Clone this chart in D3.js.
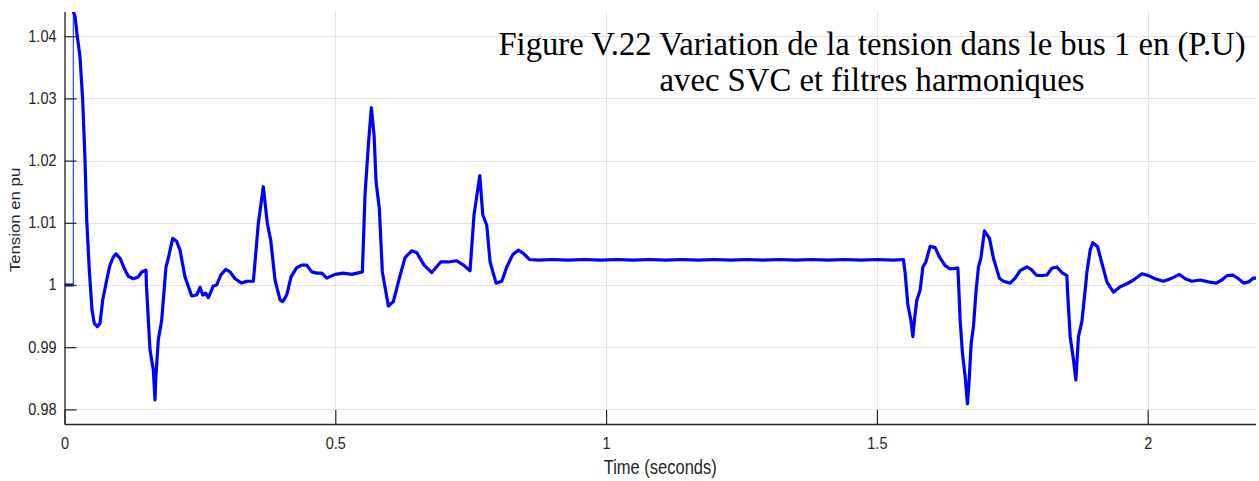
<!DOCTYPE html>
<html>
<head>
<meta charset="utf-8">
<script src="https://cdn.jsdelivr.net/npm/d3@7"></script>
<style>
  html, body { margin: 0; padding: 0; background: #ffffff; }
  svg { display: block; }
</style>
</head>
<body>
<svg id="chart" width="1259" height="481"></svg>
<script>
// Bus 1 voltage (p.u.) with SVC and harmonic filters
const xTicks = [0, 0.5, 1, 1.5, 2];
const xTickLabels = ["0", "0.5", "1", "1.5", "2"];
const yTicks = [0.98, 0.99, 1.0, 1.01, 1.02, 1.03, 1.04];
const yTickLabels = ["0.98", "0.99", "1", "1.01", "1.02", "1.03", "1.04"];

// initial steady value before the switching instant
const preTime = [0, 0.0163];
const preTension = [1.0, 1.0];
const stepTime = 0.0163;

const timeSec = [
  0.0163, 0.0166, 0.0194, 0.0236, 0.0286, 0.0336, 0.0379, 0.0410, 0.0458, 0.0508,
  0.0550, 0.0606, 0.0656, 0.0705, 0.0779, 0.0840, 0.0901, 0.0951, 0.1025, 0.1117,
  0.1178, 0.1271, 0.1363, 0.1426, 0.1505, 0.1511, 0.1548, 0.1579, 0.1640, 0.1671,
  0.1684, 0.1732, 0.1795, 0.1874, 0.1917, 0.1998, 0.2072, 0.2133, 0.2225, 0.2349,
  0.2441, 0.2502, 0.2552, 0.2608, 0.2656, 0.2748, 0.2811, 0.2885, 0.2977, 0.3056,
  0.3149, 0.3272, 0.3365, 0.3487, 0.3505, 0.3579, 0.3671, 0.3745, 0.3808, 0.3887,
  0.3980, 0.4030, 0.4103, 0.4183, 0.4288, 0.4380, 0.4473, 0.4565, 0.4657, 0.4750,
  0.4842, 0.4995, 0.5149, 0.5304, 0.5500, 0.5549, 0.5610, 0.5666, 0.5716, 0.5753,
  0.5813, 0.5869, 0.5980, 0.6072, 0.6183, 0.6288, 0.6412, 0.6504, 0.6639, 0.6781,
  0.6947, 0.7088, 0.7243, 0.7365, 0.7488, 0.7562, 0.7668, 0.7723, 0.7797, 0.7858,
  0.7969, 0.8074, 0.8166, 0.8277, 0.8380, 0.8473, 0.8584,
  0.875, 0.90, 0.93, 0.96, 0.99, 1.02, 1.05, 1.08, 1.11, 1.14,
  1.17, 1.20, 1.23, 1.26, 1.29, 1.32, 1.35, 1.38, 1.41, 1.44,
  1.47, 1.50, 1.53, 1.549,
  1.5522, 1.5572, 1.5627, 1.5664, 1.5693, 1.5738, 1.5799, 1.5849, 1.5904, 1.5983,
  1.6076, 1.6155, 1.6260, 1.6353, 1.6495, 1.6506, 1.6537, 1.6580, 1.6630, 1.6672,
  1.6704, 1.6741, 1.6783, 1.6833, 1.6876, 1.6920, 1.6986, 1.7079, 1.7152, 1.7263,
  1.7337, 1.7461, 1.7553, 1.7645, 1.7769, 1.7849, 1.7941, 1.8046, 1.8139, 1.8231,
  1.8323, 1.8416, 1.8508, 1.8519, 1.8569, 1.8630, 1.8674, 1.8722, 1.8785, 1.8846,
  1.8878, 1.8938, 1.8988, 1.9073, 1.9155, 1.9247, 1.9368, 1.9492, 1.9616, 1.9738,
  1.9893, 2.0015, 2.0139, 2.0292, 2.0447, 2.0587, 2.0693, 2.0816, 2.0970, 2.1123,
  2.1265, 2.1370, 2.1463, 2.1573, 2.1677, 2.1769, 2.1862, 2.1954, 2.2000
];

const tensionPu = [
  1.0460, 1.0439, 1.0432, 1.0400, 1.0367, 1.0297, 1.0201, 1.0105, 1.0024, 0.9960,
  0.99384, 0.99330, 0.99384, 0.99759, 1.0008, 1.0032, 1.0045, 1.0050, 1.0043, 1.0024,
  1.0014, 1.0010, 1.0013, 1.0021, 1.0024, 1.0003, 0.99437, 0.98955, 0.98633, 0.98151,
  0.98473, 0.99116, 0.99437, 1.0029, 1.0043, 1.0075, 1.0070, 1.0056, 1.0013, 0.99823,
  0.99839, 0.99963, 0.99839, 0.99867, 0.99796, 0.99984, 1.0000, 1.0016, 1.0025, 1.0021,
  1.0010, 1.0003, 1.0006, 1.0006, 1.0024, 1.0099, 1.0158, 1.0099, 1.0072, 1.0008,
  0.99759, 0.99732, 0.99839, 1.0013, 1.0028, 1.0032, 1.0032, 1.0021, 1.0019, 1.0019,
  1.0011, 1.0017, 1.0019, 1.0017, 1.0021, 1.0145, 1.0225, 1.0285, 1.0241, 1.0166,
  1.0123, 1.0021, 0.99662, 0.99732, 1.0011, 1.0044, 1.0055, 1.0052, 1.0032, 1.0020,
  1.0037, 1.0037, 1.0039, 1.0032, 1.0023, 1.0113, 1.0176, 1.0113, 1.0096, 1.0037,
  1.0003, 1.0006, 1.0029, 1.0049, 1.0056, 1.0051, 1.0041,
  1.0040, 1.0041, 1.0040, 1.0041, 1.0040, 1.0041, 1.0040, 1.0041, 1.0040, 1.0041,
  1.0040, 1.0041, 1.0040, 1.0041, 1.0040, 1.0041, 1.0040, 1.0041, 1.0040, 1.0041,
  1.0040, 1.0041, 1.0040, 1.0041,
  1.0019, 0.99678, 0.99437, 0.99169, 0.99437, 0.99759, 0.9992, 1.0029, 1.0037, 1.0062,
  1.0060, 1.0045, 1.0031, 1.0026, 1.0027, 1.0008, 0.99437, 0.98902, 0.98526, 0.98087,
  0.98473, 0.99063, 0.9933, 0.9992, 1.0029, 1.0043, 1.0087, 1.0075, 1.0043, 1.0011,
  1.0006, 1.0003, 1.0011, 1.0023, 1.0029, 1.0025, 1.0016, 1.0015, 1.0016, 1.0027,
  1.0029, 1.0020, 1.0015, 0.9992, 0.99169, 0.98794, 0.98473, 0.99169, 0.9941, 0.9992,
  1.0021, 1.0056, 1.0068, 1.0062, 1.0035, 1.0005, 0.99883, 0.99973, 1.0002, 1.0008,
  1.0018, 1.0015, 1.0010, 1.0006, 1.0011, 1.0017, 1.0010, 1.0006, 1.0008, 1.0005,
  1.0003, 1.0008, 1.0015, 1.0016, 1.0010, 1.0003, 1.0005, 1.0011, 1.0011
];

const titleLines = [
  "Figure V.22 Variation de la tension dans le bus 1 en (P.U)",
  "avec SVC et filtres harmoniques"
];

const W = 1259, H = 481;
const plot = { left: 64.5, right: 1256, top: 12, bottom: 424 };

const svg = d3.select("#chart");

const x = d3.scaleLinear().domain([0, 2.2]).range([plot.left, plot.right]);
const y = d3.scaleLinear().domain([0.97765, 1.04389]).range([plot.bottom, plot.top]);

const axisColor = "#262626";
const gridColor = "#e3e3e3";
const tickFont = "'Liberation Sans', Arial, Helvetica, sans-serif";

// grid
const grid = svg.append("g");
grid.selectAll("line.gx").data(xTicks).join("line")
  .attr("x1", d => Math.round(x(d)) + 0.5).attr("x2", d => Math.round(x(d)) + 0.5)
  .attr("y1", plot.top).attr("y2", plot.bottom)
  .attr("stroke", gridColor).attr("stroke-width", 1);
grid.selectAll("line.gy").data(yTicks).join("line")
  .attr("x1", plot.left).attr("x2", plot.right)
  .attr("y1", d => Math.round(y(d)) + 0.5).attr("y2", d => Math.round(y(d)) + 0.5)
  .attr("stroke", gridColor).attr("stroke-width", 1);

// data
svg.append("clipPath").attr("id", "plotClip").append("rect")
  .attr("x", plot.left).attr("y", plot.top)
  .attr("width", plot.right - plot.left).attr("height", plot.bottom - plot.top);

const dataG = svg.append("g").attr("clip-path", "url(#plotClip)");
const line = d3.line().x(d => x(d[0])).y(d => y(d[1]));

dataG.append("path")
  .datum(d3.zip(preTime, preTension))
  .attr("d", line)
  .attr("fill", "none").attr("stroke", "#0000ff").attr("stroke-width", 3);

// switching jump drawn as thin vertical stroke
dataG.append("line")
  .attr("x1", x(stepTime)).attr("x2", x(stepTime))
  .attr("y1", y(1.0)).attr("y2", y(1.046))
  .attr("stroke", "#3344ff").attr("stroke-width", 1.2);

dataG.append("path")
  .datum(d3.zip(timeSec, tensionPu))
  .attr("d", line)
  .attr("fill", "none").attr("stroke", "#0000ff").attr("stroke-width", 3.2)
  .attr("stroke-linejoin", "round");

// axes
const xAxis = d3.axisBottom(x).tickValues(xTicks)
  .tickFormat((d, i) => xTickLabels[i]).tickSizeInner(-14).tickSizeOuter(0).tickPadding(0);
const yAxis = d3.axisLeft(y).tickValues(yTicks)
  .tickFormat((d, i) => yTickLabels[i]).tickSizeInner(-12).tickSizeOuter(0).tickPadding(0);

const gx = svg.append("g").attr("transform", `translate(0,${plot.bottom})`).call(xAxis);
const gy = svg.append("g").attr("transform", `translate(${plot.left},0)`).call(yAxis);

[gx, gy].forEach(g => {
  g.select(".domain").attr("stroke", axisColor).attr("stroke-width", 1.3);
  g.selectAll(".tick line").attr("stroke", axisColor).attr("stroke-width", 1.2);
  g.selectAll(".tick text").attr("fill", axisColor)
    .style("font-family", tickFont).style("font-size", "14.5px");
});
gy.select(".domain").attr("d", `M0.5,${plot.top}V${plot.bottom}`);
gx.select(".domain").attr("d", `M${plot.left},0.5H${plot.right}`);

gx.selectAll(".tick text")
  .attr("y", 0).attr("dy", 0)
  .attr("transform", "translate(0,25) scale(1,1.2)");
gy.selectAll(".tick text")
  .attr("x", 0).attr("dy", 0)
  .attr("transform", "translate(-8,5) scale(1,1.2)");

// axis labels
svg.append("text")
  .attr("transform", `translate(${(plot.left + plot.right) / 2},474) scale(1,1.2)`)
  .attr("text-anchor", "middle")
  .attr("fill", axisColor)
  .style("font-family", tickFont).style("font-size", "16.5px")
  .text("Time (seconds)");

svg.append("text")
  .attr("transform", `translate(20,${(plot.top + plot.bottom) / 2 + 2}) rotate(-90) scale(1.2,1)`)
  .attr("text-anchor", "middle")
  .attr("fill", axisColor)
  .style("font-family", tickFont).style("font-size", "14px")
  .text("Tension en pu");

// title
const title = svg.append("text")
  .attr("text-anchor", "middle")
  .attr("fill", "#000000")
  .style("font-family", "'Liberation Serif', 'Times New Roman', serif")
  .style("font-size", "32.7px");
title.selectAll("tspan").data(titleLines).join("tspan")
  .attr("x", 872)
  .attr("y", (d, i) => 55 + i * 36)
  .text(d => d);
</script>
</body>
</html>
